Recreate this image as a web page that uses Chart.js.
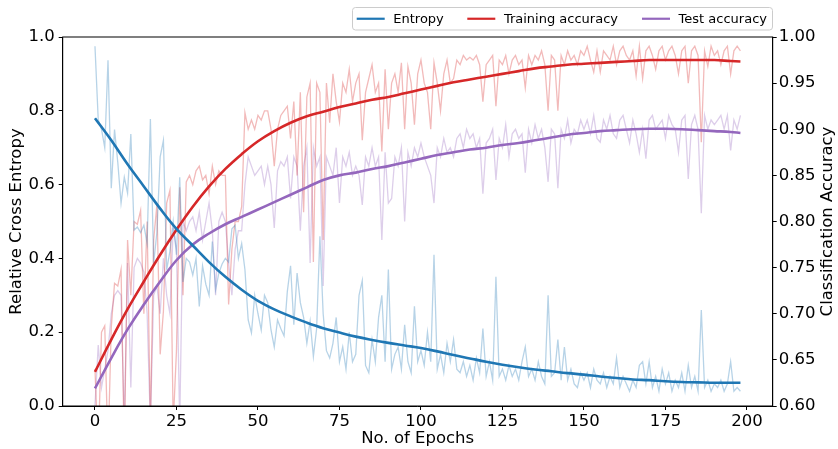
<!DOCTYPE html>
<html>
<head>
<meta charset="utf-8">
<script src="https://cdn.jsdelivr.net/npm/chart.js@4.4.1/dist/chart.umd.min.js"></script>
<style>
  html, body { margin: 0; padding: 0; background: #fff; }
</style>
</head>
<body>
<canvas id="trainingChart" width="838" height="449"></canvas>
<script>
// raw per-epoch values (epochs 0..198)
const entropyRaw = [
  0.975, 0.776, 0.75, 0.70, 0.937, 0.59, 0.749, 0.66, 0.55, 0.62,
  0.577, 0.737, 0.477, 0.485, 0.47, 0.49, 0.44, 0.778, 0.387, 0.47,
  0.675, 0.72, 0.369, 0.42, 0.50, 0.41, 0.62, 0.336, 0.40, 0.39,
  0.355, 0.40, 0.27, 0.38, 0.33, 0.30, 0.446, 0.315, 0.36, 0.385,
  0.40, 0.39, 0.48, 0.49, 0.40, 0.44, 0.37, 0.233, 0.198, 0.30,
  0.25, 0.206, 0.30, 0.28, 0.206, 0.16, 0.233, 0.21, 0.19, 0.31,
  0.38, 0.22, 0.36, 0.28, 0.24, 0.17, 0.23, 0.134, 0.21, 0.46,
  0.25, 0.15, 0.13, 0.17, 0.24, 0.12, 0.16, 0.10, 0.20, 0.12,
  0.14, 0.30, 0.34, 0.11, 0.09, 0.18, 0.12, 0.24, 0.30, 0.12,
  0.37, 0.10, 0.14, 0.16, 0.10, 0.22, 0.12, 0.09, 0.27, 0.12,
  0.15, 0.11, 0.20, 0.12, 0.41, 0.10, 0.14, 0.09, 0.17, 0.12,
  0.18, 0.10, 0.09, 0.12, 0.08, 0.11, 0.07, 0.13, 0.09, 0.21,
  0.08, 0.12, 0.07, 0.35, 0.08, 0.10, 0.07, 0.11, 0.08, 0.10,
  0.07, 0.12, 0.16, 0.08, 0.10, 0.07, 0.12, 0.08, 0.06, 0.30,
  0.08, 0.09, 0.18, 0.07, 0.16, 0.07, 0.10, 0.06, 0.05, 0.09,
  0.07, 0.09, 0.05, 0.10, 0.07, 0.06, 0.09, 0.05, 0.08, 0.06,
  0.13, 0.05, 0.08, 0.06, 0.04, 0.07, 0.05, 0.11, 0.12, 0.06,
  0.12, 0.05, 0.08, 0.04, 0.10, 0.06, 0.09, 0.04, 0.07, 0.05,
  0.09, 0.04, 0.11, 0.05, 0.08, 0.04, 0.26, 0.05, 0.07, 0.04,
  0.06, 0.05, 0.07, 0.04, 0.06, 0.12, 0.04, 0.05, 0.04
];
const trainRaw = [
  0.64, 0.55, 0.68, 0.687, 0.55, 0.685, 0.733, 0.73, 0.748, 0.55,
  0.78, 0.72, 0.80, 0.797, 0.812, 0.70, 0.80, 0.58, 0.78, 0.818,
  0.656, 0.703, 0.82, 0.834, 0.58, 0.66, 0.837, 0.72, 0.843, 0.85,
  0.84, 0.855, 0.86, 0.845, 0.85, 0.83, 0.86, 0.84, 0.855, 0.85,
  0.85, 0.71, 0.77, 0.80, 0.80, 0.816, 0.918, 0.90, 0.91, 0.90,
  0.915, 0.91, 0.92, 0.92, 0.90, 0.86, 0.90, 0.915, 0.92, 0.925,
  0.89, 0.93, 0.85, 0.94, 0.81, 0.935, 0.95, 0.756, 0.95, 0.94,
  0.78, 0.95, 0.907, 0.96, 0.93, 0.908, 0.95, 0.94, 0.965, 0.93,
  0.95, 0.96, 0.888, 0.94, 0.955, 0.97, 0.94, 0.95, 0.876, 0.965,
  0.90, 0.95, 0.96, 0.94, 0.972, 0.90, 0.968, 0.95, 0.905, 0.96,
  0.975, 0.95, 0.94, 0.90, 0.972, 0.95, 0.92, 0.96, 0.975, 0.95,
  0.955, 0.975, 0.97, 0.98, 0.975, 0.978, 0.975, 0.98, 0.97, 0.93,
  0.97, 0.975, 0.98, 0.925, 0.975, 0.97, 0.98, 0.96, 0.975, 0.98,
  0.97, 0.975, 0.945, 0.98, 0.97, 0.98, 0.975, 0.985, 0.97, 0.92,
  0.98, 0.975, 0.92, 0.98, 0.97, 0.985, 0.975, 0.98, 0.97, 0.985,
  0.98, 0.99, 0.975, 0.962, 0.985, 0.962, 0.985, 0.98, 0.975, 0.99,
  0.97, 0.985, 0.99, 0.98, 0.975, 0.985, 0.958, 0.99, 0.955, 0.985,
  0.99, 0.98, 0.965, 0.985, 0.99, 0.975, 0.985, 0.99, 0.98, 0.96,
  0.985, 0.99, 0.95, 0.985, 0.99, 0.98, 0.886, 0.985, 0.968, 0.99,
  0.98, 0.985, 0.97, 0.985, 0.99, 0.96, 0.985, 0.99, 0.985
];
const testRaw = [
  0.60, 0.666, 0.62, 0.64, 0.66, 0.70, 0.72, 0.725, 0.72, 0.58,
  0.755, 0.62, 0.75, 0.76, 0.755, 0.745, 0.70, 0.58, 0.72, 0.73,
  0.70, 0.76, 0.72, 0.70, 0.793, 0.77, 0.58, 0.80, 0.79, 0.80,
  0.805, 0.79, 0.81, 0.78, 0.80, 0.82, 0.79, 0.72, 0.80, 0.81,
  0.80, 0.755, 0.72, 0.77, 0.79, 0.79, 0.84, 0.87, 0.86, 0.85,
  0.855, 0.86, 0.84, 0.86, 0.84, 0.793, 0.855, 0.865, 0.86, 0.87,
  0.825, 0.87, 0.86, 0.79, 0.86, 0.88, 0.755, 0.88, 0.86, 0.87,
  0.73, 0.87, 0.86, 0.85, 0.88, 0.82, 0.87, 0.86, 0.875, 0.85,
  0.86, 0.85, 0.818, 0.87, 0.86, 0.88, 0.86, 0.87, 0.78, 0.875,
  0.82, 0.825, 0.87, 0.86, 0.88, 0.80, 0.875, 0.86, 0.88, 0.87,
  0.885, 0.87, 0.86, 0.85, 0.82, 0.88, 0.87, 0.89, 0.875, 0.88,
  0.87, 0.89, 0.895, 0.88, 0.90, 0.89, 0.895, 0.88, 0.89, 0.83,
  0.885, 0.89, 0.90, 0.845, 0.89, 0.88, 0.905, 0.87, 0.895, 0.90,
  0.89, 0.895, 0.853, 0.90, 0.885, 0.905, 0.89, 0.90, 0.88, 0.843,
  0.90, 0.895, 0.836, 0.90, 0.89, 0.91, 0.885, 0.90, 0.895, 0.91,
  0.90, 0.91, 0.895, 0.915, 0.89, 0.886, 0.91, 0.90, 0.915, 0.895,
  0.89, 0.91, 0.915, 0.90, 0.885, 0.91, 0.895, 0.875, 0.90, 0.868,
  0.91, 0.915, 0.90, 0.905, 0.91, 0.89, 0.915, 0.905, 0.90, 0.875,
  0.91, 0.915, 0.846, 0.905, 0.915, 0.90, 0.809, 0.915, 0.90, 0.91,
  0.905, 0.91, 0.915, 0.90, 0.915, 0.877, 0.91, 0.90, 0.915
];

// fitted trend curves, sampled every 5 epochs
const smoothEpochs = [0, 5, 10, 15, 20, 25, 30, 35, 40, 45, 50, 55, 60, 65, 70, 75, 80, 85, 90, 95,
  100, 105, 110, 115, 120, 125, 130, 135, 140, 145, 150, 155, 160, 165, 170, 175, 180, 185, 190, 195, 198];
const entropySmooth = [0.78, 0.72, 0.655, 0.595, 0.535, 0.48, 0.435, 0.39, 0.35, 0.315,
  0.285, 0.262, 0.243, 0.226, 0.211, 0.199, 0.188, 0.179, 0.171, 0.164,
  0.157, 0.148, 0.138, 0.129, 0.12, 0.112, 0.105, 0.099, 0.094, 0.089,
  0.085, 0.08, 0.076, 0.072, 0.07, 0.067, 0.065, 0.064, 0.063, 0.063, 0.063];
const trainSmooth = [0.637, 0.672, 0.705, 0.735, 0.764, 0.791, 0.816, 0.838, 0.857, 0.873,
  0.887, 0.898, 0.907, 0.914, 0.919, 0.924, 0.928, 0.932, 0.935, 0.939,
  0.943, 0.947, 0.951, 0.954, 0.957, 0.96, 0.963, 0.966, 0.968, 0.97,
  0.971, 0.972, 0.973, 0.974, 0.975, 0.975, 0.975, 0.975, 0.975, 0.974, 0.9735];
const testSmooth = [0.619, 0.652, 0.683, 0.71, 0.735, 0.758, 0.775, 0.787, 0.797, 0.805,
  0.813, 0.821, 0.829, 0.837, 0.845, 0.85, 0.853, 0.857, 0.86, 0.864,
  0.868, 0.872, 0.875, 0.878, 0.88, 0.883, 0.885, 0.888, 0.891, 0.894,
  0.896, 0.898, 0.899, 0.9, 0.9005, 0.9005, 0.9, 0.899, 0.898, 0.897, 0.896];

const xTicks = [0, 25, 50, 75, 100, 125, 150, 175, 200];
const entropyTicks = [0, 0.2, 0.4, 0.6, 0.8, 1.0];
const accTicks = [0.6, 0.65, 0.7, 0.75, 0.8, 0.85, 0.9, 0.95, 1.0];
const seriesNames = ['Entropy', 'Training accuracy', 'Test accuracy'];
const seriesColors = ['#1f77b4', '#d62728', '#9467bd'];
const fadedColors = ['rgba(31,119,180,0.32)', 'rgba(214,39,40,0.32)', 'rgba(148,103,189,0.32)'];

const FONT = '"DejaVu Sans", sans-serif';
const tickFont = { family: FONT, size: 16.5 };

const toPoints = (xs, ys) => ys.map((y, i) => ({ x: xs[i], y: y }));
const epochs = entropyRaw.map((_, i) => i);

function smoothSet(i, ys, axis) {
  return {
    label: seriesNames[i],
    data: toPoints(smoothEpochs, ys),
    yAxisID: axis,
    borderColor: seriesColors[i],
    borderWidth: 2.6,
    pointRadius: 0,
    tension: 0.4,
    fill: false
  };
}
function rawSet(i, ys, axis) {
  return {
    label: seriesNames[i] + ' raw',
    data: toPoints(epochs, ys),
    yAxisID: axis,
    borderColor: fadedColors[i],
    borderWidth: 1.3,
    pointRadius: 0,
    tension: 0,
    fill: false
  };
}

// frame on all four sides, right-hand title, and a matplotlib-like legend box
const frameAndLegend = {
  id: 'frameAndLegend',
  afterDraw(chart) {
    const { ctx, chartArea: a } = chart;
    ctx.save();
    ctx.strokeStyle = '#000';
    ctx.lineWidth = 1;
    ctx.strokeRect(a.left, a.top, a.right - a.left, a.bottom - a.top);

    ctx.fillStyle = '#000';
    ctx.font = '16.5px ' + FONT;
    ctx.textAlign = 'center';
    ctx.textBaseline = 'middle';
    ctx.translate(828, (a.top + a.bottom) / 2);
    ctx.rotate(-Math.PI / 2);
    ctx.fillText('Classification Accuracy', 0, 0);
    ctx.restore();

    ctx.save();
    ctx.font = '13px ' + FONT;
    const boxLeft = 352.5, boxTop = 7.5, boxH = 22.5, boxRight = 772.5;
    const itemX = [356.7, 467.3, 642];
    ctx.beginPath();
    ctx.roundRect(boxLeft, boxTop, boxRight - boxLeft, boxH, 3);
    ctx.fillStyle = 'rgba(255,255,255,0.8)';
    ctx.fill();
    ctx.strokeStyle = '#cccccc';
    ctx.lineWidth = 1;
    ctx.stroke();
    const cy = boxTop + boxH / 2;
    seriesNames.forEach((name, i) => {
      const x = itemX[i];
      ctx.beginPath();
      ctx.moveTo(x, cy);
      ctx.lineTo(x + 28, cy);
      ctx.strokeStyle = seriesColors[i];
      ctx.lineWidth = 2.2;
      ctx.stroke();
      ctx.fillStyle = '#000';
      ctx.textAlign = 'left';
      ctx.textBaseline = 'middle';
      ctx.fillText(name, x + 36.6, cy + 0.5);
    });
    ctx.restore();
  }
};

const axisGrid = {
  display: true,
  drawOnChartArea: false,
  drawTicks: true,
  tickLength: 4,
  tickColor: '#000',
  tickWidth: 1
};

const ctx = document.getElementById('trainingChart').getContext('2d');
new Chart(ctx, {
  type: 'line',
  data: {
    datasets: [
      smoothSet(0, entropySmooth, 'yE'),
      smoothSet(1, trainSmooth, 'yA'),
      smoothSet(2, testSmooth, 'yA'),
      rawSet(0, entropyRaw, 'yE'),
      rawSet(1, trainRaw, 'yA'),
      rawSet(2, testRaw, 'yA')
    ]
  },
  options: {
    responsive: false,
    animation: false,
    layout: { padding: { top: 37, left: 0, right: 0, bottom: 0 } },
    plugins: {
      legend: { display: false },
      tooltip: { enabled: false }
    },
    scales: {
      x: {
        type: 'linear',
        min: -9.9,
        max: 207.9,
        afterBuildTicks: s => { s.ticks = xTicks.map(v => ({ value: v })); },
        afterFit: s => { s.height = 43; },
        ticks: { font: tickFont, color: '#000', padding: 2, maxRotation: 0, callback: v => String(v) },
        grid: axisGrid,
        border: { display: true, color: '#000', width: 1 },
        title: { display: true, text: 'No. of Epochs', font: tickFont, color: '#000', padding: { top: 0, bottom: 0 } }
      },
      yE: {
        type: 'linear',
        position: 'left',
        min: 0,
        max: 1,
        afterBuildTicks: s => { s.ticks = entropyTicks.map(v => ({ value: v })); },
        afterFit: s => { s.width = 62.7; },
        ticks: { font: tickFont, color: '#000', padding: 4, callback: v => v.toFixed(1) },
        grid: axisGrid,
        border: { display: true, color: '#000', width: 1 },
        title: { display: true, text: 'Relative Cross Entropy', font: tickFont, color: '#000', padding: { top: 6.5, bottom: 0 } }
      },
      yA: {
        type: 'linear',
        position: 'right',
        min: 0.6,
        max: 1.0,
        afterBuildTicks: s => { s.ticks = accTicks.map(v => ({ value: v })); },
        afterFit: s => { s.width = 65.3; },
        ticks: { font: tickFont, color: '#000', padding: 2, callback: v => v.toFixed(2) },
        grid: axisGrid,
        border: { display: true, color: '#000', width: 1 }
      }
    }
  },
  plugins: [frameAndLegend]
});
</script>
</body>
</html>
